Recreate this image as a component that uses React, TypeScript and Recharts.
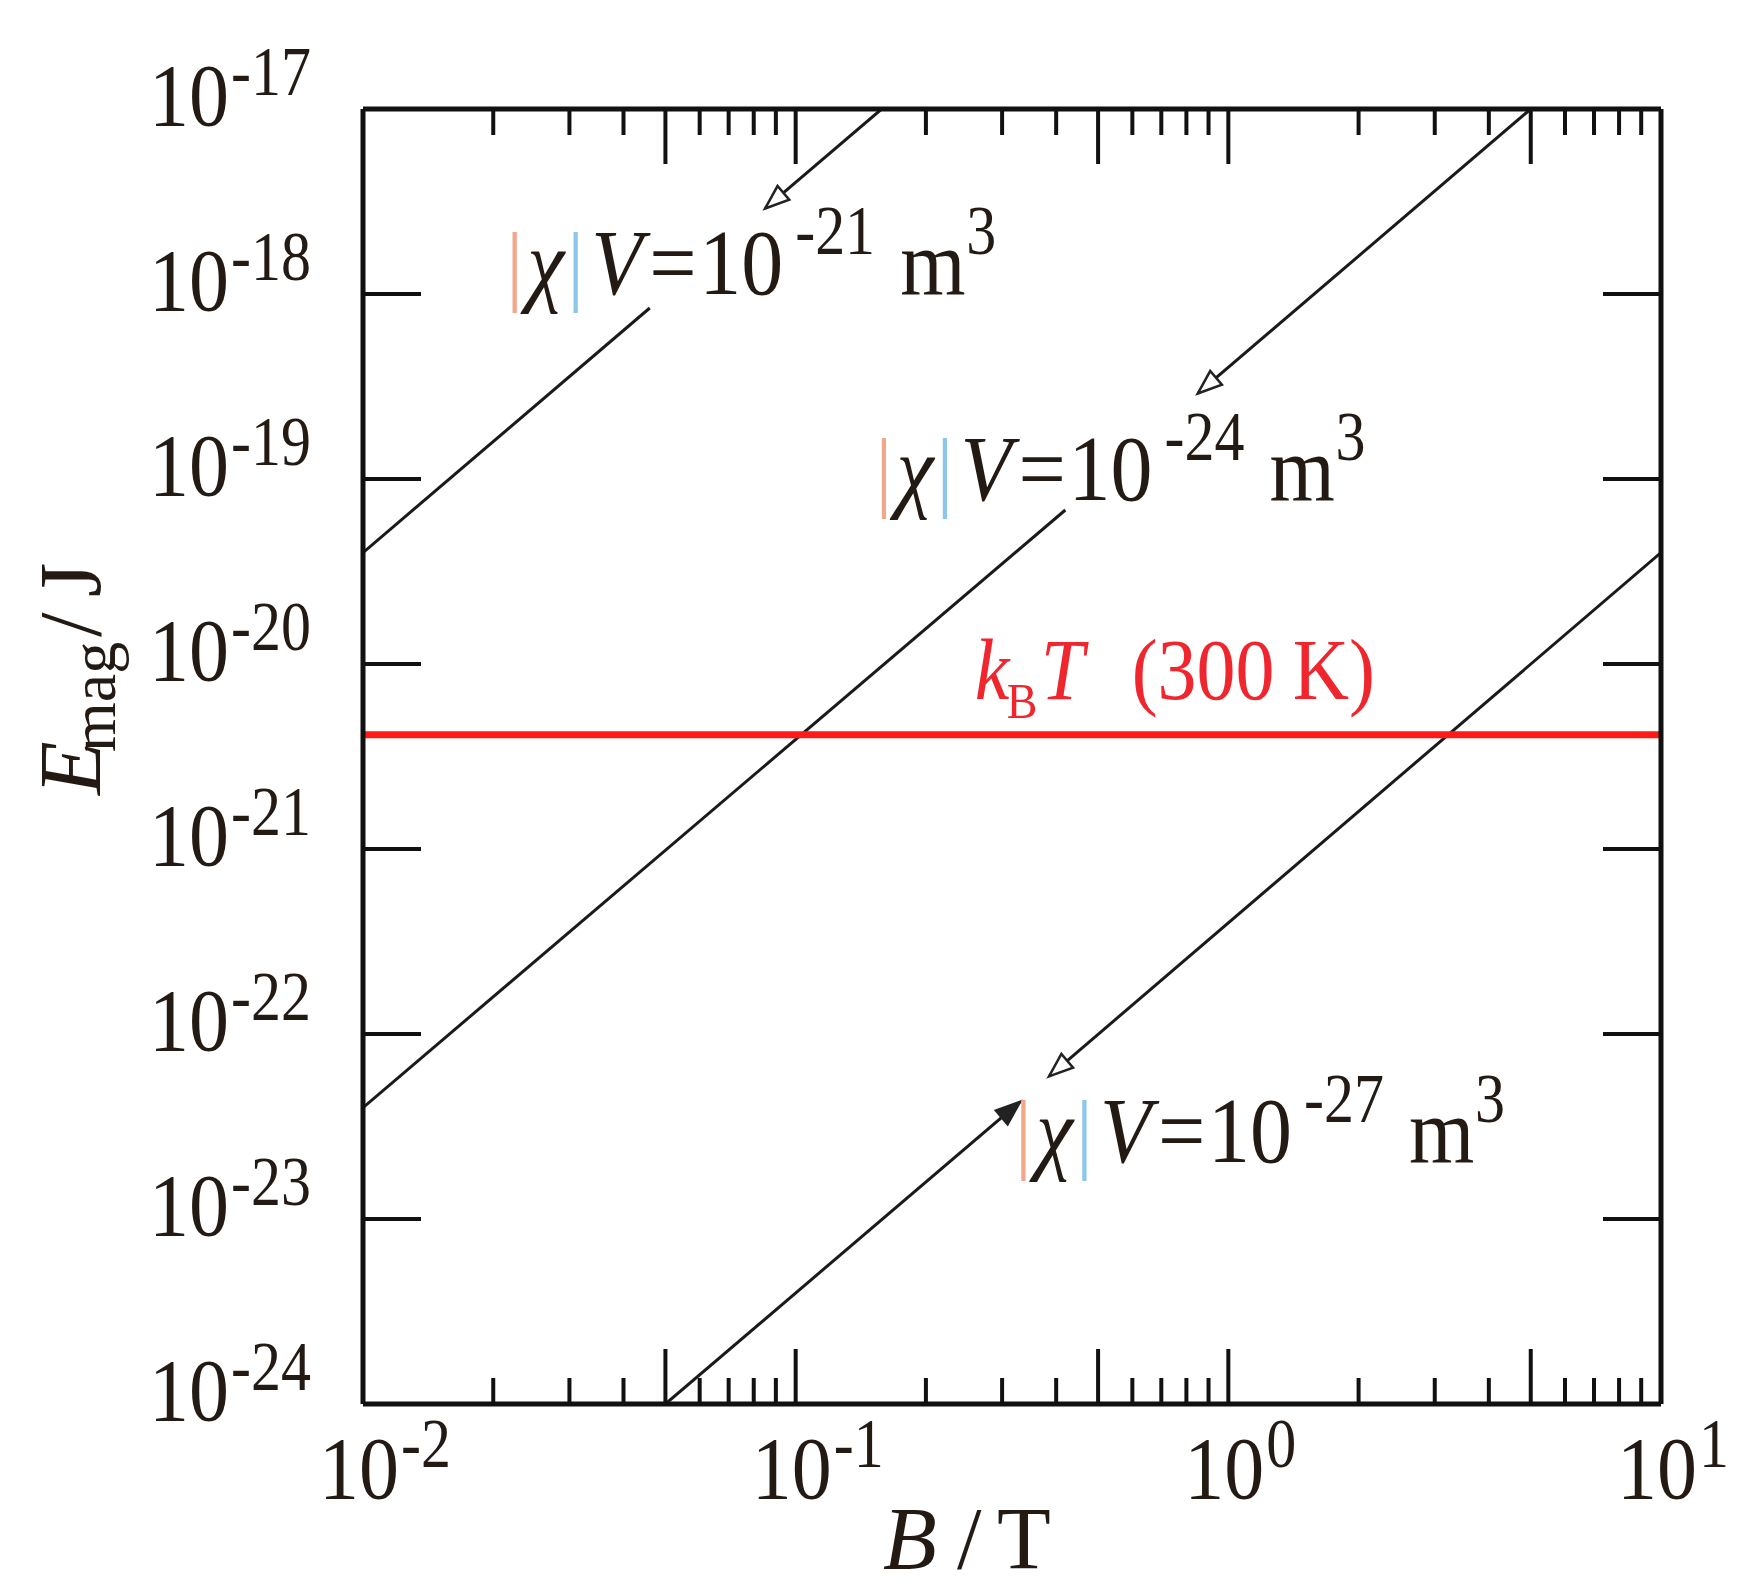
import React from 'react';
import { ComposedChart, Line, XAxis, YAxis, ReferenceLine, ReferenceDot } from 'recharts';

// ---------- data ----------
const B_TICKS = [
  0.01, 0.02, 0.03, 0.04, 0.05, 0.06, 0.07, 0.08, 0.09,
  0.1, 0.2, 0.3, 0.4, 0.5, 0.6, 0.7, 0.8, 0.9,
  1, 2, 3, 4, 5, 6, 7, 8, 9, 10,
];
const E_TICKS = [1e-24, 1e-23, 1e-22, 1e-21, 1e-20, 1e-19, 1e-18, 1e-17];

// |chi|V = 1e-21 m^3 (two visible segments, gap at the label)
const chi21Low = [{ B: 0.01, E: 4.0e-20 }, { B: 0.046, E: 8.4e-19 }];
const chi21High = [{ B: 0.085, E: 2.9e-18 }, { B: 0.158, E: 1.0e-17 }];
// |chi|V = 1e-24 m^3
const chi24Low = [{ B: 0.01, E: 4.0e-23 }, { B: 0.42, E: 6.8e-20 }];
const chi24High = [{ B: 0.85, E: 2.9e-19 }, { B: 5.0, E: 1.0e-17 }];
// |chi|V = 1e-27 m^3
const chi27Low = [{ B: 0.05, E: 1.0e-24 }, { B: 0.33, E: 4.3e-23 }];
const chi27High = [{ B: 0.385, E: 5.9e-23 }, { B: 10, E: 4.0e-20 }];
// k_B T at 300 K
const kT300 = [{ B: 0.01, E: 4.14e-21 }, { B: 10, E: 4.14e-21 }];

const CHI_LABEL_EXPONENTS = ['-21', '-24', '-27'];
const CHI_LABEL_ANCHORS = [
  { B: 0.022, E: 1.0e-18 },
  { B: 0.157, E: 7.7e-20 },
  { B: 0.33, E: 2.03e-23 },
];
const KT_LABEL_ANCHOR = { B: 0.262, E: 6.45e-21 };

// ---------- layout / style ----------
const W = 1740;
const H = 1596;
const MARGIN = { top: 109, right: 79, bottom: 92, left: 163 };
const X_AXIS_H = 100;
const Y_AXIS_W = 200;
const PLOT_W = W - MARGIN.left - MARGIN.right - Y_AXIS_W; // 1298
const PLOT_H = H - MARGIN.top - MARGIN.bottom - X_AXIS_H; // 1295
const SERIF = '"Liberation Serif", "Times New Roman", serif';
const INK = '#111';
const TXT = '#241a14';
const RED = '#ff1a1a';
const RED_TXT = '#f0262e';

function tickInfo(v: number) {
  const lg = Math.log10(v);
  const e = Math.round(lg);
  const isMajor = Math.abs(lg - e) < 1e-6;
  const m = Math.round(v / Math.pow(10, Math.floor(lg + 1e-9)));
  return { e, isMajor, isFive: m === 5 };
}

function Pow10({ x, y, exp, supDy }: { x: number; y: number; exp: string; supDy: number }) {
  return (
    <g>
      <text transform={`translate(${x},${y}) scale(1,1.1)`} fontSize={80} fontFamily={SERIF} fill={TXT}>
        10
      </text>
      <text transform={`translate(${x + 82},${y + supDy}) scale(1,1.15)`} fontSize={60} fontFamily={SERIF} fill={TXT}>
        {exp}
      </text>
    </g>
  );
}

const XTick = (props: any) => {
  const { x, y, payload } = props;
  const { e, isMajor, isFive } = tickInfo(payload.value);
  const len = isMajor || isFive ? 55 : 26;
  return (
    <g>
      <line x1={x} y1={y} x2={x} y2={y - len} stroke={INK} strokeWidth={4} />
      <line x1={x} y1={y - PLOT_H} x2={x} y2={y - PLOT_H + len} stroke={INK} strokeWidth={4} />
      {isMajor && <Pow10 x={x - 44} y={y + 94} exp={String(e)} supDy={-31} />}
    </g>
  );
};

const YTick = (props: any) => {
  const { x, y, payload } = props;
  const { e } = tickInfo(payload.value);
  return (
    <g>
      <line x1={x} y1={y} x2={x + 58} y2={y} stroke={INK} strokeWidth={4} />
      <line x1={x + PLOT_W} y1={y} x2={x + PLOT_W - 58} y2={y} stroke={INK} strokeWidth={4} />
      <Pow10 x={x - 214} y={y + 16} exp={String(e)} supDy={-30} />
    </g>
  );
};

const XTitle = (props: any) => {
  const vb = props.viewBox || {};
  const x0 = vb.x;
  const y0 = vb.y + 164;
  return (
    <g fontFamily={SERIF} fontSize={88} fill={TXT}>
      <text x={x0 + 520} y={y0} fontStyle="italic">B</text>
      <text x={x0 + 594} y={y0}>/</text>
      <text x={x0 + 634} y={y0}>T</text>
    </g>
  );
};

const YTitle = (props: any) => {
  const vb = props.viewBox || {};
  const ox = vb.x + vb.width - 263;
  const oy = vb.y + vb.height - 611;
  return (
    <g transform={`translate(${ox},${oy}) rotate(-90)`} fontFamily={SERIF} fill={TXT}>
      <text x={-2} y={0} fontSize={88} fontStyle="italic">E</text>
      <text x={41} y={15} fontSize={64}>mag</text>
      <text x={156} y={0} fontSize={88}>/</text>
      <text x={196} y={0} fontSize={88}>J</text>
    </g>
  );
};

function ChiLabel({ cx, cy, exp }: { cx: number; cy: number; exp: string }) {
  const t = (dx: number, dy: number, sy: number) => `translate(${cx + dx},${cy + dy}) scale(1,${sy})`;
  return (
    <g fontFamily={SERIF}>
      <text transform={t(-5, 0, 1.05)} fontSize={84} fill="#f2a68a">|</text>
      <text transform={t(16, 0, 1.1)} fontSize={84} fill={TXT} fontStyle="italic">χ</text>
      <text transform={t(56, 0, 1.05)} fontSize={84} fill="#8cc6ea">|</text>
      <text transform={t(80, 0, 1.1)} fontSize={84} fill={TXT} fontStyle="italic">V</text>
      <text transform={t(138, 0, 1.1)} fontSize={84} fill={TXT}>=</text>
      <text transform={t(188, 0, 1.1)} fontSize={84} fill={TXT}>10</text>
      <text transform={t(284, -40, 1.15)} fontSize={60} fill={TXT}>{exp}</text>
      <text transform={t(389, 0, 1.1)} fontSize={84} fill={TXT}>m</text>
      <text transform={t(455, -40, 1.15)} fontSize={60} fill={TXT}>3</text>
    </g>
  );
}

function KTLabel({ cx, cy }: { cx: number; cy: number }) {
  const t = (dx: number, dy: number) => `translate(${cx + dx},${cy + dy}) scale(1,1.1)`;
  return (
    <g fontFamily={SERIF} fill={RED_TXT}>
      <text transform={t(-2, 0)} fontSize={78} fontStyle="italic">k</text>
      <text transform={t(30, 19)} fontSize={46}>B</text>
      <text transform={t(64, 0)} fontSize={78} fontStyle="italic">T</text>
      <text transform={t(155, 0)} fontSize={78}>(300</text>
      <text transform={t(316, 0)} fontSize={78}>K)</text>
    </g>
  );
}

const ANG = (40.5 * Math.PI) / 180;
function Arrow({ cx, cy, dir, filled }: { cx: number; cy: number; dir: 1 | -1; filled?: boolean }) {
  // dir = 1: pointing down-left; dir = -1: pointing up-right
  const dx = -Math.cos(ANG) * dir;
  const dy = Math.sin(ANG) * dir;
  const L = 24;
  const Wd = 9;
  const bx = cx - L * dx;
  const by = cy - L * dy;
  const px = dy;
  const py = -dx;
  const pts = `${cx},${cy} ${bx + Wd * px},${by + Wd * py} ${bx - Wd * px},${by - Wd * py}`;
  return <polygon points={pts} fill={filled ? '#222' : '#fff'} stroke="#222" strokeWidth={2.5} strokeLinejoin="miter" />;
}

const startArrowDot = (p: any) =>
  p.index === 0 ? <Arrow key={`a${p.index}`} cx={p.cx} cy={p.cy} dir={1} /> : <g key={`n${p.index}`} />;
const endArrowDot = (p: any) =>
  p.index === 1 ? <Arrow key={`b${p.index}`} cx={p.cx} cy={p.cy} dir={-1} filled /> : <g key={`m${p.index}`} />;

const lineProps = {
  dataKey: 'E',
  stroke: '#1a1a1a',
  strokeWidth: 3,
  isAnimationActive: false,
  activeDot: false as const,
  type: 'linear' as const,
};

export default function App() {
  return (
    <div style={{ position: 'absolute', left: 0, top: 0, width: W, height: H, background: '#fff' }}>
      <ComposedChart width={W} height={H} margin={MARGIN}>
        <XAxis
          dataKey="B"
          type="number"
          scale="log"
          domain={[0.01, 10]}
          allowDataOverflow
          ticks={B_TICKS}
          interval={0}
          tickSize={0}
          tickMargin={0}
          tickLine={false}
          axisLine={false}
          height={X_AXIS_H}
          tick={XTick}
          label={{ content: XTitle }}
        />
        <YAxis
          type="number"
          scale="log"
          domain={[1e-24, 1e-17]}
          allowDataOverflow
          ticks={E_TICKS}
          interval={0}
          tickSize={0}
          tickMargin={0}
          tickLine={false}
          axisLine={false}
          width={Y_AXIS_W}
          tick={YTick}
          label={{ content: YTitle }}
        />

        <Line {...lineProps} data={chi21Low} dot={false} />
        <Line {...lineProps} data={chi21High} dot={startArrowDot} />
        <Line {...lineProps} data={chi24Low} dot={false} />
        <Line {...lineProps} data={chi24High} dot={startArrowDot} />
        <Line {...lineProps} data={chi27Low} dot={endArrowDot} />
        <Line {...lineProps} data={chi27High} dot={startArrowDot} />
        <Line {...lineProps} data={kT300} stroke={RED} strokeWidth={7} dot={false} />

        <ReferenceLine x={0.01} stroke={INK} strokeWidth={5} />
        <ReferenceLine x={10} stroke={INK} strokeWidth={5} />
        <ReferenceLine y={1e-24} stroke={INK} strokeWidth={5} />
        <ReferenceLine y={1e-17} stroke={INK} strokeWidth={5} />

        {CHI_LABEL_ANCHORS.map((a, i) => (
          <ReferenceDot
            key={`lbl${i}`}
            x={a.B}
            y={a.E}
            r={0}
            shape={(p: any) => <ChiLabel cx={p.cx} cy={p.cy} exp={CHI_LABEL_EXPONENTS[i]} />}
          />
        ))}
        <ReferenceDot
          x={KT_LABEL_ANCHOR.B}
          y={KT_LABEL_ANCHOR.E}
          r={0}
          shape={(p: any) => <KTLabel cx={p.cx} cy={p.cy} />}
        />
      </ComposedChart>
    </div>
  );
}
